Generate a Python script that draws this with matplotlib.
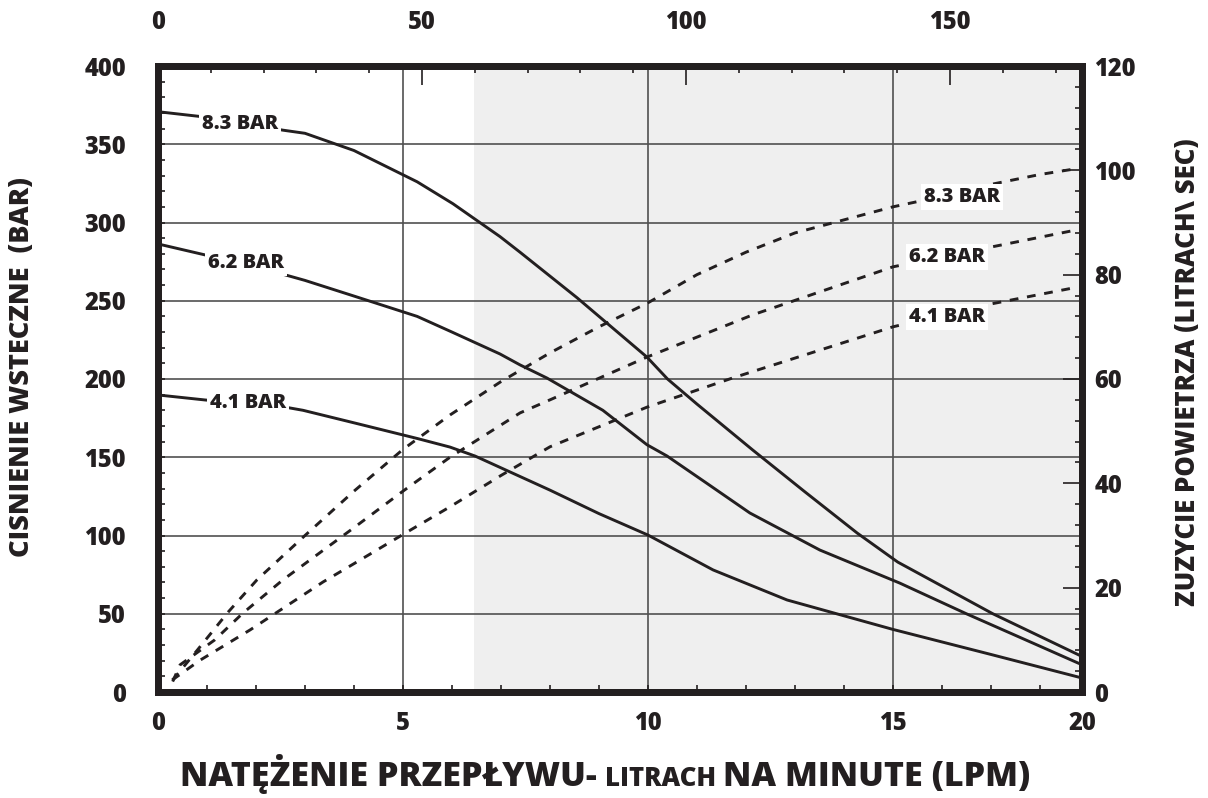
import matplotlib.pyplot as plt
from matplotlib.ticker import FixedLocator, MultipleLocator

plt.rcParams['font.family'] = ['Open Sans', 'DejaVu Sans']
plt.rcParams['font.weight'] = 'heavy'
W = 'heavy'

ink = '#231f20'

# flow axis: bottom scale in LPM, drawn to 18.86 where the last mark reads "20"
lpm_max = 18.86
lpm_ticks = [0, 5, 10, 15, lpm_max]
lpm_labels = ['0', '5', '10', '15', '20']
top_max = 175.0
top_ticks = [0, 50, 100, 150]

# back pressure (bar) curves - solid, left axis
x_83 = [0, 0.9, 2.55, 3.0, 4.0, 5.29, 6.02, 6.98, 7.39, 8.55, 9.98, 10.4, 11.0,
        12.14, 13.2, 14.27, 15.1, 16.0, 17.04, 18.0, 18.8]
p_83 = [370.8, 367.6, 359, 357, 346, 326, 312, 291, 281, 252, 214, 200, 184,
        154.6, 128, 101.6, 83, 67.7, 50, 35.6, 23.6]
x_62 = [0, 1.0, 2.6, 3.0, 4.0, 5.29, 6.0, 6.98, 7.39, 7.94, 9.08, 9.98, 10.39,
        11.2, 12.08, 13.51, 15.14, 16.5, 17.5, 18.78]
p_62 = [286.3, 279, 266.5, 263, 253, 240, 230, 216, 209, 200.6, 180, 158, 150.8,
        133.4, 114.4, 90.7, 69.6, 50, 36.2, 18.5]
x_41 = [0, 0.96, 2.6, 2.96, 4.0, 5.29, 5.96, 6.47, 8.0, 9.0, 10.0, 11.33, 12.84,
        14.0, 15.0, 16.0, 17.0, 18.78]
p_41 = [189.8, 186.6, 182, 180, 172, 162, 156.5, 150.8, 129, 114, 100.3, 78, 58.8,
        48.7, 40, 32, 24, 9.6]

# air consumption curves - dashed, right axis
xa_83 = [0.3, 0.8, 1.43, 2.02, 3.0, 4.0, 5.0, 5.96, 7.0, 8.0, 9.0, 10.0, 11.0,
         12.0, 13.0, 14.0, 15.0, 16.0, 17.0, 18.0, 18.8]
q_83 = [2.3, 8, 15.3, 21.5, 30, 38.5, 46.5, 53.1, 59.5, 65, 70, 74.6, 80, 84.3,
        88, 90.5, 93, 95, 97.3, 99.2, 100.4]
xa_62 = [0.3, 0.45, 1.16, 1.73, 2.55, 3.0, 4.0, 5.0, 5.96, 7.39, 8.0, 9.98, 12.14,
         15.0, 16.9, 18.76]
q_62 = [2.0, 5.2, 10, 15.1, 21.5, 24.6, 31.5, 38.5, 45, 53.5, 56, 64.2, 72.3,
        81.5, 85.1, 88.6]
xa_41 = [0.29, 0.86, 1.88, 2.35, 3.37, 4.0, 5.0, 5.96, 7.0, 8.0, 9.98, 11.73, 15.0,
         16.9, 18.76]
q_41 = [2.3, 6.1, 11.9, 14.8, 21.1, 24.6, 30.2, 35.5, 41.5, 47, 54.6, 60.2, 70,
        74.2, 77.6]

shade_from = 6.45

fig = plt.figure(figsize=(12.08, 7.98), dpi=100)
ax = fig.add_axes([158 / 1208, 1 - 692 / 798, 924 / 1208, 626 / 798])
ax2 = ax.twinx()
ax3 = ax.twiny()

ax.set_xlim(0, lpm_max)
ax.set_ylim(0, 400)
ax2.set_ylim(0, 120)
ax3.set_xlim(0, top_max)

ax.axvspan(shade_from, lpm_max, color='#efefef', lw=0, zorder=0)
for v in [5, 10, 15]:
    ax.axvline(v, color='#505050', lw=1.2, zorder=1)
for v in range(50, 400, 50):
    ax.axhline(v, color='#505050', lw=1.2, zorder=1)

line_kw = dict(color=ink, lw=2.1, zorder=3)
ax.plot(x_83, p_83, **line_kw)
ax.plot(x_62, p_62, **line_kw)
ax.plot(x_41, p_41, **line_kw)

dash_kw = dict(color=ink, lw=2.1, dashes=(3.0, 3.0), zorder=3)
ax2.plot(xa_83, q_83, **dash_kw)
ax2.plot(xa_62, q_62, **dash_kw)
ax2.plot(xa_41, q_41, **dash_kw)

lab_kw = dict(fontsize=14.5, fontweight=W, color=ink, ha='center',
              va='center', zorder=4,
              bbox=dict(facecolor='white', edgecolor='none', pad=2.0))
ax.text(1.67, 363, '8.3 BAR', **lab_kw)
ax.text(1.80, 274, '6.2 BAR', **lab_kw)
ax.text(1.84, 184.7, '4.1 BAR', **lab_kw)
ax2.text(16.41, 94.9, '8.3 BAR', **lab_kw)
ax2.text(16.10, 83.4, '6.2 BAR', **lab_kw)
ax2.text(16.10, 71.9, '4.1 BAR', **lab_kw)

# ticks
tick_font = 17
ax.xaxis.set_major_locator(FixedLocator(lpm_ticks))
ax.set_xticklabels(lpm_labels)
ax.xaxis.set_minor_locator(MultipleLocator(1))
ax.yaxis.set_major_locator(MultipleLocator(50))
ax.yaxis.set_minor_locator(MultipleLocator(10))
ax.tick_params(axis='x', which='both', direction='in', top=False, color=ink,
               width=1.2, labelsize=tick_font, labelcolor=ink, pad=14)
ax.tick_params(axis='x', which='both', length=5)
ax.tick_params(axis='y', which='both', direction='in', right=False, color=ink,
               width=1.2, length=5, labelsize=tick_font, labelcolor=ink, pad=23)

ax2.yaxis.set_major_locator(MultipleLocator(20))
ax2.yaxis.set_minor_locator(MultipleLocator(4))
ax2.tick_params(axis='y', which='major', direction='in', length=14, width=1.2,
                color=ink, labelsize=tick_font, labelcolor=ink, pad=9)
ax2.tick_params(axis='y', which='minor', direction='in', length=5, width=1.2,
                color=ink)

ax3.xaxis.set_major_locator(FixedLocator(top_ticks))
ax3.xaxis.set_minor_locator(MultipleLocator(10))
ax3.tick_params(axis='x', which='major', direction='in', length=14, width=1.2,
                color=ink, labelsize=tick_font, labelcolor=ink, pad=22)
ax3.tick_params(axis='x', which='minor', direction='in', length=5, width=1.2,
                color=ink)

for a in (ax, ax2, ax3):
    a.patch.set_visible(False)
    for sp in a.spines.values():
        sp.set_linewidth(4.8)
        sp.set_color(ink)
        sp.set_capstyle('projecting')
        sp.set_zorder(5)
for lab in ax.get_xticklabels() + ax.get_yticklabels() + ax2.get_yticklabels() + ax3.get_xticklabels():
    lab.set_fontweight(W)

fig.text(22 / 1208, 1 - 367 / 798, 'CISNIENIE WSTECZNE  (BAR)', rotation=90,
         fontsize=19.5, fontweight=W, color=ink, ha='center', va='center')
fig.text(1188 / 1208, 1 - 372 / 798, 'ZUZYCIE POWIETRZA (LITRACH\\ SEC)', rotation=90,
         fontsize=18.5, fontweight=W, color=ink, ha='center', va='center')

# x title with a smaller middle word
pieces = [('NATĘŻENIE PRZEPŁYWU- ', 24.5), ('LITRACH ', 18.5), ('NA MINUTE (LPM)', 24.5)]
fig.canvas.draw()
renderer = fig.canvas.get_renderer()
texts = []
widths = []
for s, fs in pieces:
    t = fig.text(0, 1 - 786 / 798, s, fontsize=fs, fontweight=W, color=ink,
                 ha='left', va='baseline')
    texts.append(t)
    widths.append(t.get_window_extent(renderer).width)
total = sum(widths)
x0 = 605 - total / 2
for t, w in zip(texts, widths):
    t.set_x(x0 / 1208)
    x0 += w

fig.savefig('out.png', dpi=100)
